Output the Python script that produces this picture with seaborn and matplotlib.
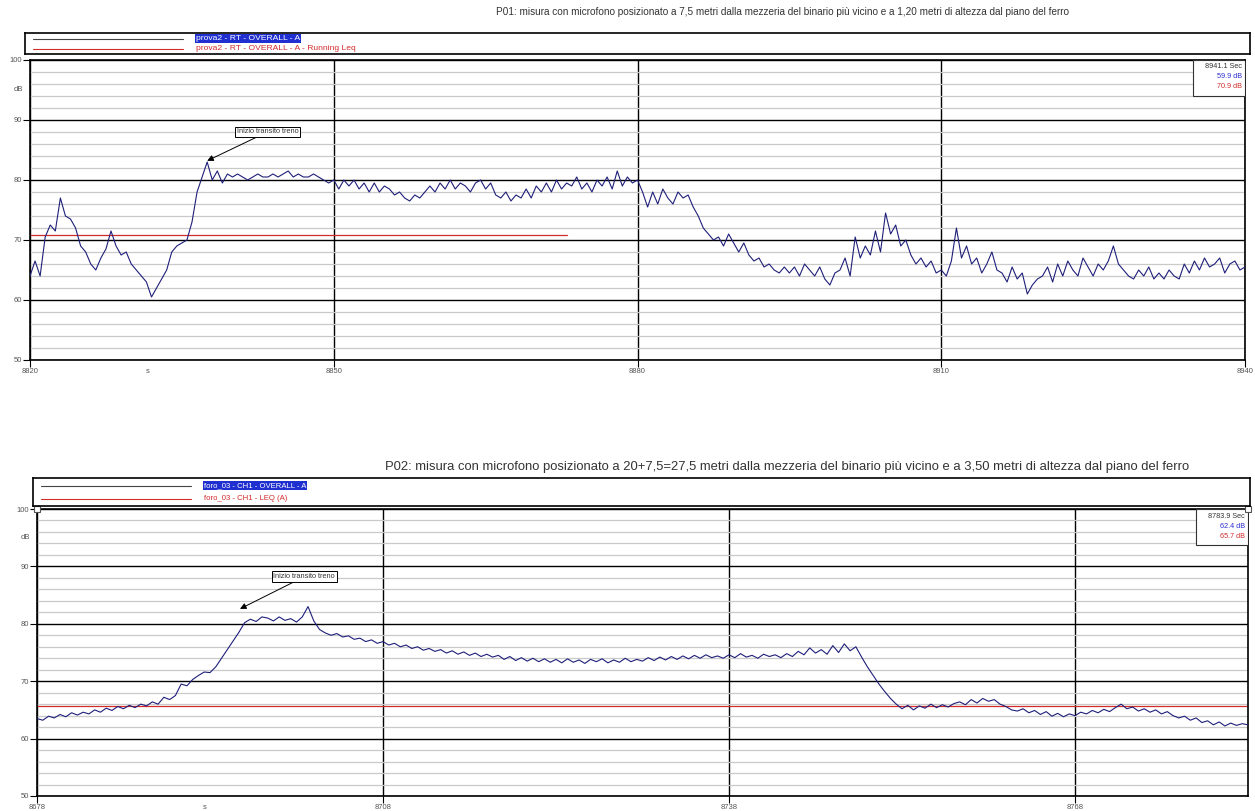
import numpy as np
import pandas as pd
import matplotlib
matplotlib.use("Agg")
import matplotlib.pyplot as plt
import seaborn as sns
from matplotlib.patches import Rectangle
import matplotlib.transforms as mtrans

# ---------------- data ----------------
p01_title = ("P01: misura con microfono posizionato a 7,5 metri dalla mezzeria del binario più vicino "
             "e a 1,20 metri di altezza dal piano del ferro")
p01_series = ["prova2 - RT - OVERALL - A", "prova2 - RT - OVERALL - A - Running Leq"]
p01_start = 8820.0
p01_step = 0.5
p01_level = [
    64, 66.5, 64, 70.5, 72.5, 71.5, 77, 74, 73.5, 72,
    69, 68, 66, 65, 67, 68.5, 71.5, 69, 67.5, 68,
    66, 65, 64, 63, 60.5, 62, 63.5, 65, 68, 69,
    69.5, 70, 73, 78, 80.5, 83, 80, 81.5, 79.5, 81,
    80.5, 81, 80.5, 80, 80.5, 81, 80.5, 80.5, 81, 80.5,
    81, 81.5, 80.5, 81, 80.5, 80.5, 81, 80.5, 80, 79.5,
    80, 78.5, 80, 79, 80, 78.5, 79.5, 78, 79.5, 78,
    79, 78.5, 77.5, 78, 77, 76.5, 77.5, 77, 78, 79,
    78, 79.5, 78.5, 80, 78.5, 79.5, 79, 78, 79.5, 80,
    78.5, 79.5, 77.5, 77, 78, 76.5, 77.5, 77, 78.5, 77,
    79, 78, 79.5, 78, 80, 78.5, 79.5, 79, 80.5, 78.5,
    79.5, 78, 80, 79, 80.5, 78.5, 81.5, 79, 80.5, 79.5,
    80, 78, 75.5, 78, 76, 78.5, 77, 76, 78, 77,
    77.5, 75.5, 74, 72, 71, 70, 70.5, 69, 71, 69.5,
    68, 69.5, 67.5, 66.5, 67, 65.5, 66, 65, 64.5, 65.5,
    64.5, 65.5, 64, 66, 65, 64, 65.5, 63.5, 62.5, 64.5,
    65, 67, 64, 70.5, 67, 69, 67.5, 71.5, 68, 74.5,
    71, 72.5, 69, 70, 67.5, 66, 67, 65.5, 66.5, 64.5,
    65, 64, 66.5, 72, 67, 69, 66, 67, 64.5, 66,
    68, 65, 64.5, 63, 65.5, 63.5, 64.5, 61, 62.5, 63.5,
    64, 65.5, 63, 66, 64, 66.5, 65, 64, 67, 65.5,
    64, 66, 65, 66.5, 69, 66, 65, 64, 63.5, 65,
    64, 65.5, 63.5, 64.5, 63.5, 65, 64, 63.5, 66, 64.5,
    66.5, 65, 67, 65.5, 66, 67, 64.5, 66, 66.5, 65,
    65.5,
]
p01_leq_time = [8820.0, 8873.0]
p01_leq = [70.9, 70.9]
p01_xlim = (8820, 8940)
p01_xticks = [8820, 8850, 8880, 8910, 8940]
p01_cursor = ["8941.1 Sec", "59.9 dB", "70.9 dB"]
p01_note_xy = (8837.5, 83.2)
p01_note_text_xy = (8840.4, 88.0)

p02_title = ("P02: misura con microfono posizionato a 20+7,5=27,5 metri dalla mezzeria del binario più vicino "
             "e a 3,50 metri di altezza dal piano del ferro")
p02_series = ["foro_03 - CH1 - OVERALL - A", "foro_03 - CH1 - LEQ (A)"]
p02_start = 8678.0
p02_step = 0.5
p02_level = [
    63.5, 63.2, 63.9, 63.6, 64.2, 63.8, 64.5, 64.1, 64.6, 64.3,
    65.0, 64.6, 65.3, 64.9, 65.6, 65.2, 65.8, 65.4, 66.0, 65.7,
    66.4, 66.0, 67.2, 66.8, 67.5, 69.5, 69.2, 70.3, 71.0, 71.6,
    71.5, 72.5, 74.0, 75.5, 77.0, 78.5, 80.2, 80.8, 80.4, 81.2,
    81.0, 80.5, 81.2, 80.6, 80.9, 80.3, 81.2, 83.0, 80.5, 79.0,
    78.4, 78.0, 78.3, 77.7, 77.9, 77.3, 77.5, 76.9, 77.2, 76.6,
    76.9, 76.3, 76.6, 76.0, 76.3, 75.7, 76.0, 75.4, 75.7, 75.2,
    75.5, 74.9, 75.3, 74.7, 75.1, 74.5, 74.9, 74.3, 74.7, 74.2,
    74.5, 73.8, 74.3, 73.6, 74.1, 73.5, 74.0, 73.4, 73.9, 73.3,
    73.8, 73.2, 73.9, 73.3, 73.7, 73.1, 73.8, 73.4, 73.9, 73.2,
    73.7, 73.3, 74.0, 73.4, 73.8, 73.5, 74.1, 73.6, 74.2, 73.7,
    74.3, 73.8, 74.4, 73.9, 74.5, 74.0, 74.6, 74.1, 74.4, 74.0,
    74.6, 74.1, 74.8, 74.2, 74.5, 74.0, 74.7, 74.3, 74.6, 74.1,
    74.8, 74.3, 75.2, 74.6, 75.8, 74.9, 75.5, 74.7, 76.2, 75.0,
    76.5, 75.3, 76.0, 74.2, 72.5, 71.0, 69.5, 68.2, 67.0, 66.0,
    65.2, 65.8, 65.0, 65.7, 65.3, 66.0, 65.4, 65.9, 65.5, 66.1,
    66.4, 65.9, 66.8, 66.2, 67.0, 66.5, 66.8, 66.0, 65.6, 65.0,
    64.8, 65.2, 64.5, 64.9, 64.2, 64.7, 63.9, 64.4, 63.8, 64.3,
    64.0, 64.6, 64.3, 64.9, 64.5, 65.1, 64.7, 65.4, 66.0, 65.2,
    65.5, 64.8, 65.2, 64.6, 65.0, 64.3, 64.7, 64.0, 63.6, 63.9,
    63.2, 63.6, 62.8, 63.1, 62.4, 62.9, 62.2, 62.7, 62.3, 62.6,
    62.4,
]
p02_leq_time = [8678.0, 8783.0]
p02_leq = [65.7, 65.7]
p02_xlim = (8678, 8783)
p02_xticks = [8678, 8708, 8738, 8768]
p02_cursor = ["8783.9 Sec", "62.4 dB", "65.7 dB"]
p02_note_xy = (8695.6, 82.6)
p02_note_text_xy = (8698.5, 88.2)

note_text = "Inizio transito treno"
y_major = [50, 60, 70, 80, 90, 100]
y_minor = [52, 54, 56, 58, 62, 64, 66, 68, 72, 74, 76, 78, 82, 84, 86, 88, 92, 94, 96, 98]

# ---------------- style ----------------
sns.set_theme(style="white")
NARROW = ["Liberation Sans Narrow", "Liberation Sans", "DejaVu Sans"]
plt.rcParams["font.family"] = ["Liberation Sans", "DejaVu Sans"]

TRACE = "#1f1f7a"
LEQC = "#d42b2b"
HILITE = "#1f2fd0"

W, H = 1255, 811
fig = plt.figure(figsize=(W / 100, H / 100), dpi=100)


def fx(px):
    return px / W


def fy(py):
    return 1 - py / H


def panel(rect_px, legend_px, title, title_pos, title_size, legend_size, series, start, step,
          level, leq_t, leq_v, xlim, xticks, cursor, note_xy, note_txt_xy, unit_x, handles):
    l, t, r, b = rect_px
    ax = fig.add_axes([fx(l), fy(b), fx(r - l), (b - t) / H])
    time = start + step * np.arange(len(level))
    df = pd.DataFrame({"t": time, "dB": level})
    leq = pd.DataFrame({"t": leq_t, "dB": leq_v})

    ax.set_xlim(*xlim)
    ax.set_ylim(50, 100)
    ax.set_yticks(y_major)
    ax.set_yticks(y_minor, minor=True)
    ax.set_xticks(xticks)
    ax.grid(which="minor", axis="y", color="#c9c9c9", lw=0.9, zorder=0)
    ax.grid(which="major", axis="y", color="black", lw=1.0, zorder=0.5)
    ax.grid(which="major", axis="x", color="black", lw=1.0, zorder=0.5)

    sns.lineplot(data=leq, x="t", y="dB", ax=ax, color=LEQC, lw=0.9, zorder=2)
    sns.lineplot(data=df, x="t", y="dB", ax=ax, color=TRACE, lw=0.8, zorder=3)
    ax.set_xlabel("")
    ax.set_ylabel("")

    for s in ax.spines.values():
        s.set_color("black")
        s.set_linewidth(1.2)
    ax.tick_params(axis="both", which="major", direction="out", length=5, width=0.8,
                   color="black", labelsize=5.5, labelcolor="#555555", pad=1,
                   left=True, bottom=True)
    ax.tick_params(axis="y", which="minor", length=0)
    ax.set_yticklabels([str(v) for v in y_major])
    ax.set_xticklabels([str(v) for v in xticks])
    for lab in ax.get_xticklabels() + ax.get_yticklabels():
        lab.set_family(NARROW)

    trans_y = mtrans.blended_transform_factory(ax.transAxes, ax.transData)
    ax.text(-0.006, 95, "dB", transform=trans_y, ha="right", va="center",
            fontsize=5.5, color="#555555", family=NARROW)
    trans_x = mtrans.blended_transform_factory(ax.transData, ax.transAxes)
    ax.text(unit_x, -0.028, "s", transform=trans_x, ha="center", va="top",
            fontsize=5.5, color="#555555", family=NARROW)

    # cursor value box (top right)
    bx0 = 1 - 52 / (r - l)
    ax.add_patch(Rectangle((bx0, 1 - 36 / (b - t)), 52 / (r - l), 36 / (b - t),
                           transform=ax.transAxes, facecolor="white", edgecolor="#333333",
                           lw=0.8, zorder=5))
    for i, (txt, col) in enumerate(zip(cursor, ["#333333", "#2a2ad0", LEQC])):
        ax.text(1 - 3 / (r - l), 1 - (7 + 10 * i) / (b - t), txt, transform=ax.transAxes,
                ha="right", va="center", fontsize=5.2, color=col, family=NARROW, zorder=6)

    ax.annotate(note_text, xy=note_xy, xytext=note_txt_xy, fontsize=5.3, family=NARROW,
                color="#333333", ha="left", va="center", zorder=7,
                bbox=dict(boxstyle="square,pad=0.25", fc="white", ec="black", lw=0.7),
                arrowprops=dict(arrowstyle="-|>", color="black", lw=0.7, mutation_scale=9,
                                shrinkA=0, shrinkB=0))

    if handles:
        ax.plot([0, 1], [1, 1], ls="none", marker="s", ms=4, mfc="white", mec="#555555",
                mew=0.8, transform=ax.transAxes, clip_on=False, zorder=8)

    # legend box
    ll, lt, lr, lb = legend_px
    lax = fig.add_axes([fx(ll), fy(lb), fx(lr - ll), (lb - lt) / H])
    lax.set_xlim(ll, lr)
    lax.set_ylim(lb, lt)
    lax.set_xticks([])
    lax.set_yticks([])
    for s in lax.spines.values():
        s.set_color("black")
        s.set_linewidth(1.2)
    h = lb - lt
    y1, y2 = lt + h * 0.28, lt + h * 0.74
    lax.plot([ll + 8, ll + 158], [y1, y1], color="#444444", lw=0.8)
    lax.plot([ll + 8, ll + 158], [y2, y2], color=LEQC, lw=0.8)
    lax.text(ll + 171, y1, series[0], fontsize=legend_size, color="white", va="center",
             family=NARROW, bbox=dict(boxstyle="square,pad=0.12", fc=HILITE, ec="none"))
    lax.text(ll + 171, y2, series[1], fontsize=legend_size, color=LEQC, va="center",
             family=NARROW)

    fig.text(fx(title_pos[0]), fy(title_pos[1]), title, ha="center", va="center",
             fontsize=title_size, color="#333333", family=NARROW)
    return ax


panel((30, 60, 1245, 360), (25, 33, 1250, 54), p01_title, (782, 12), 7.2, 6.1, p01_series,
      p01_start, p01_step, p01_level, p01_leq_time, p01_leq, p01_xlim, p01_xticks,
      p01_cursor, p01_note_xy, p01_note_text_xy, 8831.6, False)

panel((37, 509, 1248, 796), (33, 478, 1250, 506), p02_title, (787, 467), 9.4, 5.6, p02_series,
      p02_start, p02_step, p02_level, p02_leq_time, p02_leq, p02_xlim, p02_xticks,
      p02_cursor, p02_note_xy, p02_note_text_xy, 8692.5, True)

fig.savefig("out.png", dpi=100, facecolor="white")
